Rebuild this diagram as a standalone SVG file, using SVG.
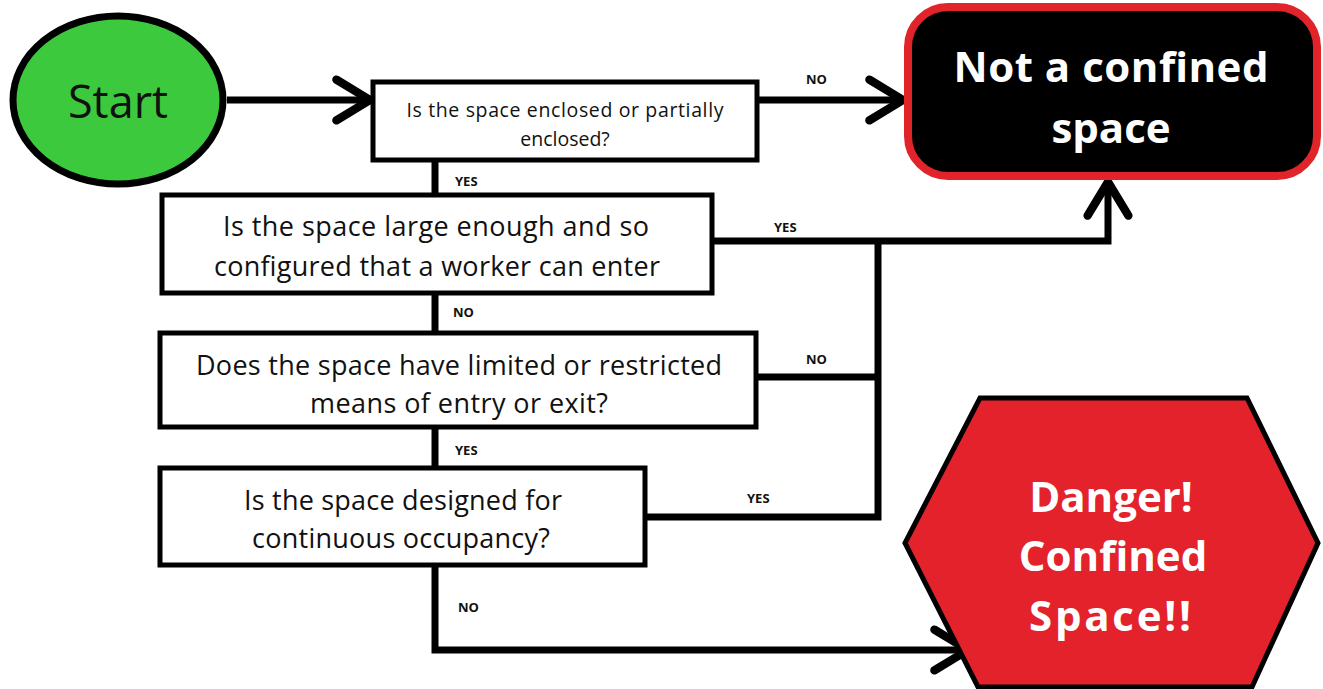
<svg xmlns="http://www.w3.org/2000/svg" width="1323" height="689" viewBox="0 0 1323 689">
<defs>
<style>
.q{font-family:"Open Sans","Liberation Sans",sans-serif;font-size:27px;fill:#111;text-anchor:middle}
.q1{font-size:19.5px}
.lbl{font-family:"Open Sans","Liberation Sans",sans-serif;font-size:13px;font-weight:bold;fill:#111}
.big{font-family:"Open Sans","Liberation Sans",sans-serif;font-size:42px;font-weight:bold;fill:#fff;text-anchor:middle}
.box{fill:#fff;stroke:#000;stroke-width:5}
.con{fill:none;stroke:#000;stroke-width:7;stroke-linejoin:miter}
</style>
<marker id="chev" markerUnits="userSpaceOnUse" markerWidth="60" markerHeight="60" refX="0" refY="0" viewBox="-35 -25 40 50" orient="auto" overflow="visible">
<path d="M-28,-17 L0,0 L-28,17" fill="none" stroke="#000" stroke-width="7" stroke-linecap="round" stroke-linejoin="round"/>
</marker>
</defs>
<rect width="1323" height="689" fill="#fff"/>

<g id="connectors">
<path class="con" d="M227,100 H370" marker-end="url(#chev)"/>
<path class="con" d="M757,100 H903" marker-end="url(#chev)"/>
<path class="con" d="M435,160 V195"/>
<path class="con" d="M435,293 V333"/>
<path class="con" d="M435,427 V468"/>
<path class="con" d="M435,565 V650 H968" marker-end="url(#chev)"/>
<path class="con" d="M712,241 H1108 V182" marker-end="url(#chev)"/>
<path class="con" d="M756,377 H878"/>
<path class="con" d="M645,517 H878 V241"/>
<text class="lbl" x="455" y="186">YES</text>
<text class="lbl" x="806" y="84">NO</text>
<text class="lbl" x="774" y="232">YES</text>
<text class="lbl" x="453" y="317">NO</text>
<text class="lbl" x="806" y="364">NO</text>
<text class="lbl" x="455" y="455">YES</text>
<text class="lbl" x="747" y="503">YES</text>
<text class="lbl" x="458" y="612">NO</text>
</g>

<g id="start">
<ellipse cx="118" cy="100" rx="105" ry="84" fill="#3dc93d" stroke="#000" stroke-width="7"/>
<text x="118" y="118" font-family="'Open Sans','Liberation Sans',sans-serif" font-size="45" fill="#111" text-anchor="middle">Start</text>
</g>

<g id="q1">
<rect class="box" x="373" y="82" width="384" height="78"/>
<text class="q q1" x="565" y="117" textLength="317">Is the space enclosed or partially</text>
<text class="q q1" x="565" y="146">enclosed?</text>
</g>

<g id="q2">
<rect class="box" x="162" y="195" width="550" height="98"/>
<text class="q" x="436" y="236" textLength="426">Is the space large enough and so</text>
<text class="q" x="437" y="276" textLength="446">configured that a worker can enter</text>
</g>

<g id="q3">
<rect class="box" x="160" y="333" width="596" height="94"/>
<text class="q" x="459" y="375" textLength="526">Does the space have limited or restricted</text>
<text class="q" x="459" y="413" textLength="298">means of entry or exit?</text>
</g>

<g id="q4">
<rect class="box" x="160" y="468" width="485" height="97"/>
<text class="q" x="403" y="510" textLength="318">Is the space designed for</text>
<text class="q" x="401" y="548" textLength="298">continuous occupancy?</text>
</g>

<g id="not-confined">
<rect x="908" y="7" width="409" height="169" rx="40" ry="40" fill="#000" stroke="#e0242a" stroke-width="8"/>
<text class="big" x="1111" y="82" textLength="315">Not a confined</text>
<text class="big" x="1111" y="143">space</text>
</g>

<g id="danger">
<polygon points="980,398 1247,398 1318,543 1252,687 978,687 905,543" fill="#e3222b" stroke="#000" stroke-width="5" stroke-linejoin="miter"/>
<text class="big" x="1111" y="512">Danger!</text>
<text class="big" x="1113" y="571">Confined</text>
<text class="big" x="1110" y="631" textLength="162">Space!!</text>
</g>
</svg>
